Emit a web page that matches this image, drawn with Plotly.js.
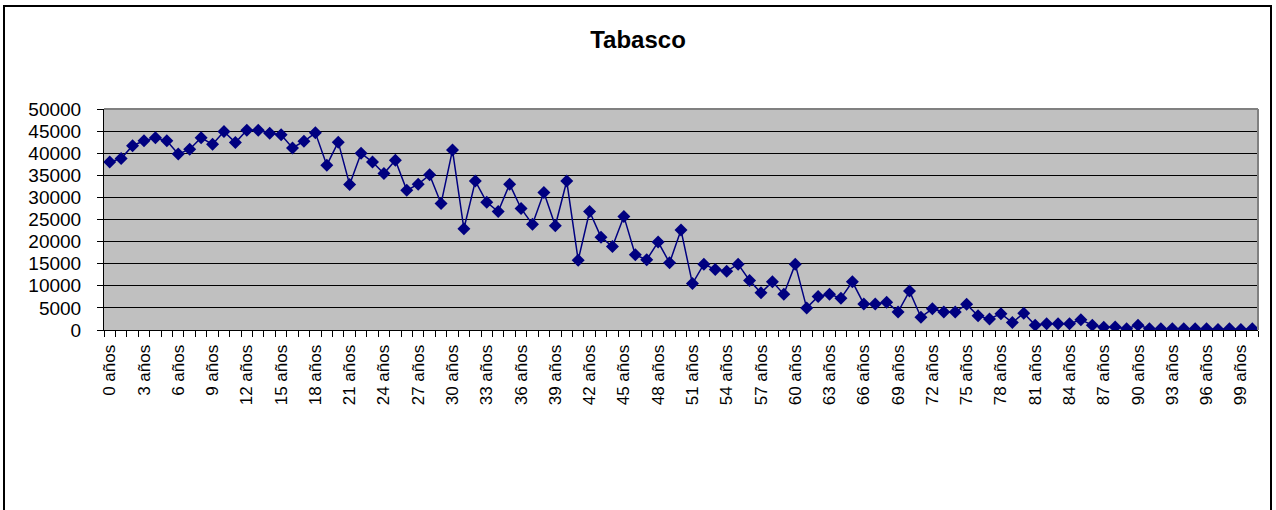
<!DOCTYPE html>
<html>
<head>
<meta charset="utf-8">
<script src="https://cdn.plot.ly/plotly-3.0.1.min.js"></script>
<style>
html,body{margin:0;padding:0;background:#fff;}
#chart{width:1276px;height:510px;}
</style>
</head>
<body>
<div id="chart"></div>
<script>
// Ages 0..100
var ages = [];
for (var i = 0; i <= 100; i++) { ages.push(i); }
var categories = ages.map(function (a) { return a + " años"; });

var population = [
  38000, 38800, 41700, 42800, 43500, 42800, 39800, 40900, 43500, 42000,
  44900, 42400, 45200, 45200, 44500, 44200, 41200, 42700, 44600, 37300,
  42500, 32900, 40000, 38000, 35400, 38400, 31600, 33000, 35100, 28600,
  40700, 22900, 33700, 28900, 26800, 33000, 27500, 23900, 31100, 23600,
  33700, 15800, 26800, 21000, 18900, 25700, 17000, 15900, 19900, 15200,
  22600, 10500, 14900, 13700, 13300, 14900, 11200, 8400, 10900, 8100,
  14900, 5000, 7600, 8100, 7200, 10900, 5900, 5900, 6300, 4100,
  8800, 2900, 4800, 4100, 4100, 5800, 3200, 2500, 3700, 1700,
  3800, 1100, 1400, 1400, 1400, 2300, 1100, 600, 700, 300,
  1100, 300, 300, 300, 300, 300, 300, 100, 300, 100, 300
];

// every third category is labelled
var tickIdx = ages.filter(function (a) { return a % 3 === 0; });
var tickLabels = tickIdx.map(function (a) { return categories[a]; });

var trace = {
  x: ages,
  y: population,
  text: categories,
  type: 'scatter',
  mode: 'lines+markers',
  line: {color: '#000080', width: 1.5},
  marker: {symbol: 'diamond', size: 10, color: '#000080'},
  hoverinfo: 'text+y'
};

var font = "Liberation Sans, Arial, sans-serif";

var layout = {
  width: 1276,
  height: 510,
  margin: {l: 104, r: 18, t: 109, b: 180},
  paper_bgcolor: '#ffffff',
  plot_bgcolor: '#C0C0C0',
  showlegend: false,
  title: {
    text: '<b>Tabasco</b>',
    font: {family: font, size: 24, color: '#000'},
    x: 0.5, xanchor: 'center',
    y: 1 - 40 / 510, yanchor: 'middle', yref: 'container'
  },
  xaxis: {
    type: 'linear',
    range: [-0.5, 100.5],
    tickmode: 'array',
    tickvals: tickIdx,
    ticktext: tickLabels,
    tickangle: -90,
    ticks: '',
    tickfont: {family: font, size: 17, color: '#000'},
    ticklabelstandoff: 7,
    showgrid: false,
    zeroline: false,
    showline: true,
    linecolor: '#000',
    linewidth: 1,
    minor: {
      tickmode: 'linear',
      tick0: -0.5,
      dtick: 1,
      ticks: 'outside',
      ticklen: 6,
      tickcolor: '#000',
      tickwidth: 1,
      showgrid: false
    }
  },
  yaxis: {
    range: [0, 50000],
    dtick: 5000,
    tick0: 0,
    ticks: 'outside',
    ticklen: 6,
    tickcolor: '#000',
    tickfont: {family: font, size: 19, color: '#000'},
    ticklabelstandoff: 12,
    showgrid: true,
    gridcolor: '#000',
    gridwidth: 1,
    zeroline: false,
    showline: true,
    linecolor: '#000',
    linewidth: 1,
    tickformat: 'd'
  },
  shapes: [
    {type: 'line', xref: 'paper', yref: 'paper', x0: 0, x1: 1, y0: 1, y1: 1,
     line: {color: '#808080', width: 2}},
    {type: 'line', xref: 'paper', yref: 'paper', x0: 1, x1: 1, y0: 0, y1: 1,
     line: {color: '#808080', width: 2}},
    {type: 'rect', xref: 'paper', yref: 'paper',
     x0: (4 - 104) / 1154, x1: (1271 - 104) / 1154,
     y0: (330 - 520) / 221, y1: (330 - 6) / 221,
     line: {color: '#000', width: 2}, fillcolor: 'rgba(0,0,0,0)'}
  ]
};

Plotly.newPlot('chart', [trace], layout, {displayModeBar: false, staticPlot: true});
</script>
</body>
</html>
